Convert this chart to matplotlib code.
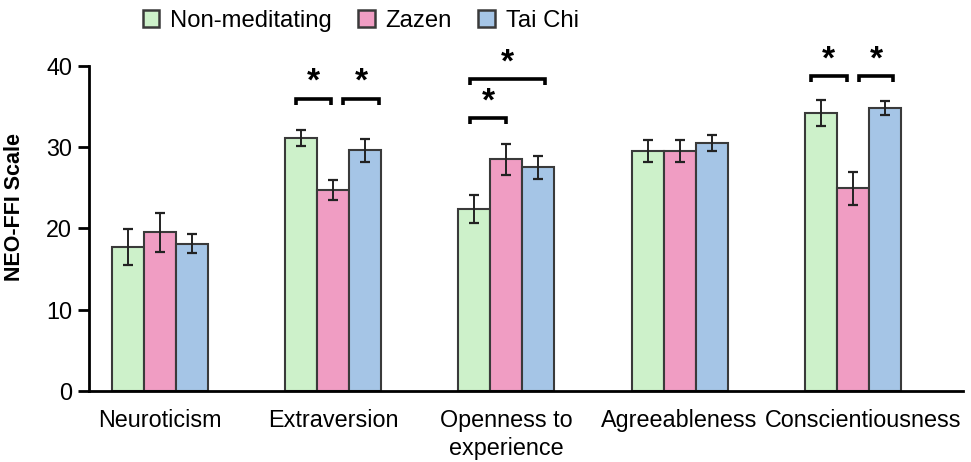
import matplotlib
matplotlib.use("Agg")
import matplotlib.pyplot as plt
import matplotlib.transforms as mtransforms
import numpy as np

plt.rcParams['font.family'] = ['Liberation Sans', 'DejaVu Sans']

categories = ["Neuroticism", "Extraversion", "Openness to\nexperience",
              "Agreeableness", "Conscientiousness"]
groups = ["Non-meditating", "Zazen", "Tai Chi"]
means = {
    "Non-meditating": [17.7, 31.1, 22.4, 29.5, 34.2],
    "Zazen":          [19.5, 24.7, 28.5, 29.5, 24.9],
    "Tai Chi":        [18.1, 29.6, 27.5, 30.5, 34.8],
}
errors = {
    "Non-meditating": [2.2, 1.0, 1.7, 1.4, 1.6],
    "Zazen":          [2.4, 1.2, 1.9, 1.4, 2.0],
    "Tai Chi":        [1.2, 1.4, 1.4, 1.0, 0.9],
}
colors = {"Non-meditating": "#cdf1ca", "Zazen": "#f09dc3", "Tai Chi": "#a5c5e6"}

# significant pairs: (category index, group a, group b, bracket height)
sig_pairs = [
    (1, 0, 1, 35.9), (1, 1, 2, 35.9),
    (2, 0, 1, 33.5), (2, 0, 2, 38.3),
    (4, 0, 1, 38.7), (4, 1, 2, 38.7),
]
# small horizontal nudges of each bracket end, in axis units
bracket_nudge = [
    (-0.03, -0.012), (0.058, 0.08),
    (-0.023, 0.0), (-0.023, 0.035),
    (-0.058, -0.035), (0.035, 0.05),
]

fig = plt.figure(figsize=(9.71, 4.62), dpi=100)
ax = fig.add_axes([0.0917, 0.1537, 0.9, 0.7045])

x = np.arange(len(categories))
w = 0.185
for i, g in enumerate(groups):
    ax.bar(x + (i - 1) * w, means[g], w, color=colors[g], edgecolor="#3a3a3a",
           linewidth=1.5, label=g, zorder=2)
    ax.errorbar(x + (i - 1) * w, means[g], yerr=errors[g], fmt="none",
                ecolor="#222222", elinewidth=1.4, capsize=3.8, capthick=1.6, zorder=3)

for (ci, a, b, h), (da, db) in zip(sig_pairs, bracket_nudge):
    xa = ci + (a - 1) * w + da
    xb = ci + (b - 1) * w + db
    ax.plot([xa, xa, xb, xb], [h - 0.7, h, h, h - 0.7], color="black",
            linewidth=2.6, solid_capstyle="butt", solid_joinstyle="miter", zorder=4)
    ax.text((xa + xb) / 2, h + 0.1, "*", ha="center", va="bottom",
            fontsize=24, fontweight="bold", color="black")

ax.set_xlim(-0.41, 4.636)
ax.set_ylim(0, 40)
ax.set_yticks([0, 10, 20, 30, 40])
ax.set_xticks(x)
ax.set_xticklabels(categories, fontsize=16.8, linespacing=1.3)
ax.tick_params(axis="y", labelsize=16.8, length=8, width=2, direction="out", pad=4)
ax.tick_params(axis="x", length=0, pad=13)

# keep the last two category names from running into each other
last = ax.get_xticklabels()[-1]
last.set_transform(last.get_transform() +
                   mtransforms.ScaledTranslation(10 / 100, 0, fig.dpi_scale_trans))

for s in ["top", "right"]:
    ax.spines[s].set_visible(False)
ax.spines["left"].set_linewidth(2)
ax.spines["bottom"].set_linewidth(2)
ax.spines["left"].set_bounds(0, 40)
ax.set_ylabel("NEO-FFI Scale", fontsize=15.5, fontweight="bold")
ax.yaxis.set_label_coords(-0.0733, 0.566)

handles = [plt.Rectangle((0, 0), 1, 1, facecolor=colors[g], edgecolor="#3a3a3a",
                         linewidth=1.8) for g in groups]
fig.legend(handles, groups, loc="upper left", bbox_to_anchor=(0.1247, 1.025),
           ncol=3, frameon=False, fontsize=17.2, handlelength=0.7, handleheight=0.7,
           handletextpad=0.45, columnspacing=1.1)

fig.savefig("out.png", dpi=100)
